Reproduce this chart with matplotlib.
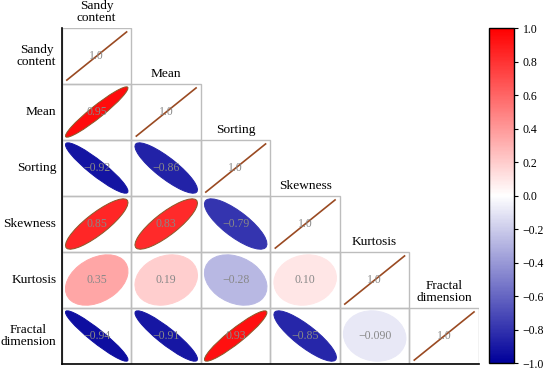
import matplotlib.pyplot as plt
import numpy as np
from matplotlib.patches import Ellipse, Rectangle
from matplotlib.colors import LinearSegmentedColormap, Normalize
from matplotlib.colorbar import ColorbarBase

plt.rcParams['font.family'] = ['Liberation Serif', 'DejaVu Serif']

# variable names (row/column labels)
names = ['Sandy\ncontent', 'Mean', 'Sorting', 'Skewness', 'Kurtosis', 'Fractal\ndimension']

# lower triangle of the correlation matrix, row by row (diagonal included)
row_sandy = [1.0]
row_mean = [0.95, 1.0]
row_sorting = [-0.92, -0.86, 1.0]
row_skew = [0.85, 0.83, -0.79, 1.0]
row_kurt = [0.35, 0.19, -0.28, 0.10, 1.0]
row_fractal = [-0.94, -0.91, 0.93, -0.85, -0.090, 1.0]
rows = [row_sandy, row_mean, row_sorting, row_skew, row_kurt, row_fractal]

cbar_ticks = [1.0, 0.8, 0.6, 0.4, 0.2, 0.0, -0.2, -0.4, -0.6, -0.8, -1.0]

cmap = LinearSegmentedColormap.from_list('corr', ['#00009a', '#ffffff', '#ff0000'])
norm = Normalize(-1, 1)

fig = plt.figure(figsize=(5.5, 3.75), dpi=100)
ax = fig.add_axes([0.1127, 0.0293, 0.758, 0.896])
n = len(names)
ax.set_xlim(0, n)
ax.set_ylim(n, 0)

k = 0.9
for i, row in enumerate(rows):
    for j, r in enumerate(row):
        cx, cy = j + 0.5, i + 0.5
        ax.add_patch(Rectangle((j, i), 1, 1, facecolor='none', edgecolor='#bdbdbd', lw=1, zorder=1))
        if i == j:
            ax.plot([j + 0.07, j + 0.93], [i + 0.93, i + 0.07], color='#9a4a22', lw=1.2, zorder=2)
        else:
            w = k * np.sqrt(1 + abs(r))
            h = k * np.sqrt(1 - abs(r))
            ang = 45 if r > 0 else -45
            ec = '#8a5a2a' if r > 0.5 else cmap(norm(r))
            # y axis is inverted, so flip the angle
            e = Ellipse((cx, cy), w, h, angle=-ang, facecolor=cmap(norm(r)),
                        edgecolor=ec, lw=0.7, zorder=2)
            ax.add_patch(e)
        txt = f"{r:#.2g}".replace('-', '\u2212')
        ax.text(cx, cy, txt, ha='center', va='center', fontsize=8.5, color='#888888', zorder=3)

for i, nm in enumerate(names):
    ax.text(-0.08, i + 0.5, nm, ha='right', va='center', multialignment='center',
            fontsize=9.6, linespacing=1.0)
    ax.text(i + 0.5, i - 0.07, nm, ha='center', va='bottom', multialignment='center',
            fontsize=9.6, linespacing=1.0)

ax.set_xticks([])
ax.set_yticks([])
ax.spines['top'].set_visible(False)
ax.spines['right'].set_visible(False)
ax.spines['left'].set_color('black')
ax.spines['bottom'].set_color('black')
ax.spines['left'].set_linewidth(1.2)
ax.spines['bottom'].set_linewidth(1.2)

cax = fig.add_axes([0.889, 0.032, 0.045, 0.893])
cb = ColorbarBase(cax, cmap=cmap, norm=norm, orientation='vertical')
cb.set_ticks(cbar_ticks)
cb.set_ticklabels([f"{t:.1f}".replace('-', '\u2212') for t in cbar_ticks])
cax.tick_params(labelsize=8.5, length=3)
cb.outline.set_linewidth(1)

plt.savefig('out.png', dpi=100)
